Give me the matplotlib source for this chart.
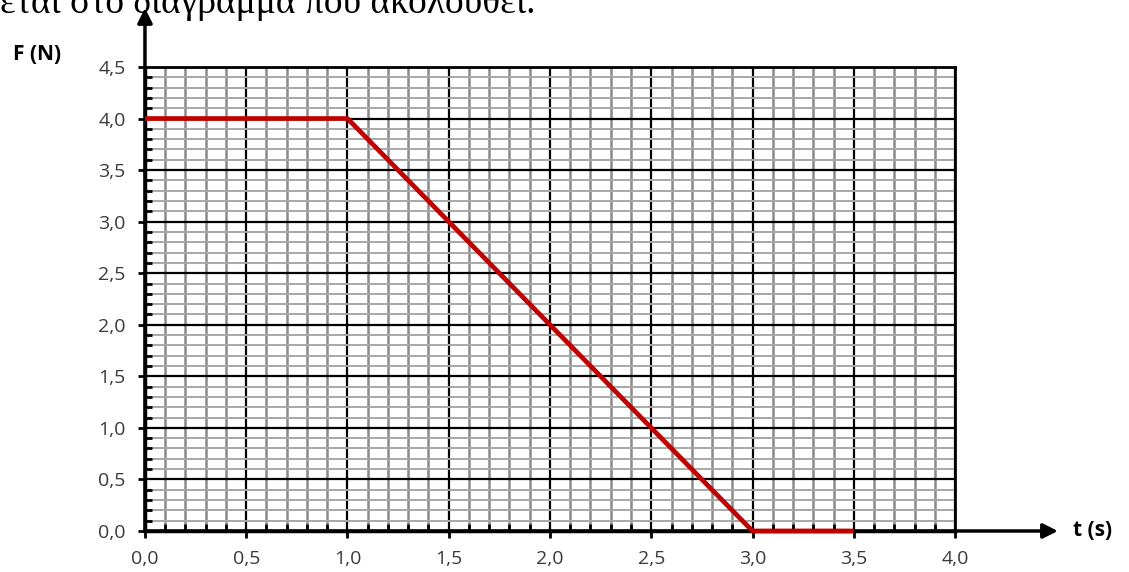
import matplotlib.pyplot as plt
from matplotlib.ticker import MultipleLocator, FuncFormatter

# data
t_values = [0.0, 1.0, 3.0, 3.5]
f_values = [4.0, 4.0, 0.0, 0.0]

x_max = 4.0
y_max = 4.5
header = "εται στο διάγραμμα που ακολουθεί."
x_label = "t (s)"
y_label = "F (N)"


def comma_fmt(v, pos):
    return f"{v:.1f}".replace(".", ",")


def main():
    fig = plt.figure(figsize=(11.29, 5.72), dpi=100)
    ax = fig.add_axes([0.1284, 0.0717, 0.7175, 0.8112])

    ax.set_xlim(0, x_max)
    ax.set_ylim(0, y_max)

    ax.xaxis.set_major_locator(MultipleLocator(0.5))
    ax.xaxis.set_minor_locator(MultipleLocator(0.1))
    ax.yaxis.set_major_locator(MultipleLocator(0.5))
    ax.yaxis.set_minor_locator(MultipleLocator(0.1))
    ax.xaxis.set_major_formatter(FuncFormatter(comma_fmt))
    ax.yaxis.set_major_formatter(FuncFormatter(comma_fmt))

    # grid: black majors, gray minors
    ax.grid(which='major', color='black', lw=1.6)
    ax.grid(which='minor', axis='x', color='#8a8a8a', lw=1.8)
    ax.grid(which='minor', axis='y', color='#a8a8a8', lw=1.4)
    ax.set_axisbelow(True)

    ax.tick_params(which='major', direction='out', length=5, width=2,
                   color='black', labelsize=14, labelcolor='#3a3a3a', pad=9)
    ax.tick_params(which='minor', direction='in', length=5, width=2, color='black')
    ax.tick_params(which='both', top=False, right=False)
    for lab in ax.get_xticklabels() + ax.get_yticklabels():
        lab.set_fontfamily('Open Sans')

    for side in ['top', 'right']:
        ax.spines[side].set_linewidth(2)
    for side in ['left', 'bottom']:
        ax.spines[side].set_linewidth(2.5)

    ax.plot(t_values, f_values, color='#c00000', lw=3.4, zorder=5,
            clip_on=False, solid_capstyle='butt')

    # arrows for the axes
    ax.annotate('', xy=(0, 1.127), xytext=(0, 0), xycoords='axes fraction',
                arrowprops=dict(arrowstyle='-|>', lw=2.5, color='black',
                                mutation_scale=22, shrinkA=0, shrinkB=0))
    ax.annotate('', xy=(1.127, 0), xytext=(0, 0), xycoords='axes fraction',
                arrowprops=dict(arrowstyle='-|>', lw=2.5, color='black',
                                mutation_scale=22, shrinkA=0, shrinkB=0))

    fig.text(37 / 1129, 1 - 55 / 572, y_label, fontsize=15, fontweight='bold',
             fontfamily='Open Sans', ha='center', va='center')
    fig.text(1073 / 1129, 1 - 530 / 572, x_label, fontsize=15, fontweight='bold',
             fontfamily='Open Sans', ha='left', va='center')
    fig.text(0.0, 1 - 13 / 572, header, fontsize=27, fontfamily='Liberation Serif',
             ha='left', va='baseline')

    fig.savefig('out.png', dpi=100)


if __name__ == '__main__':
    main()
